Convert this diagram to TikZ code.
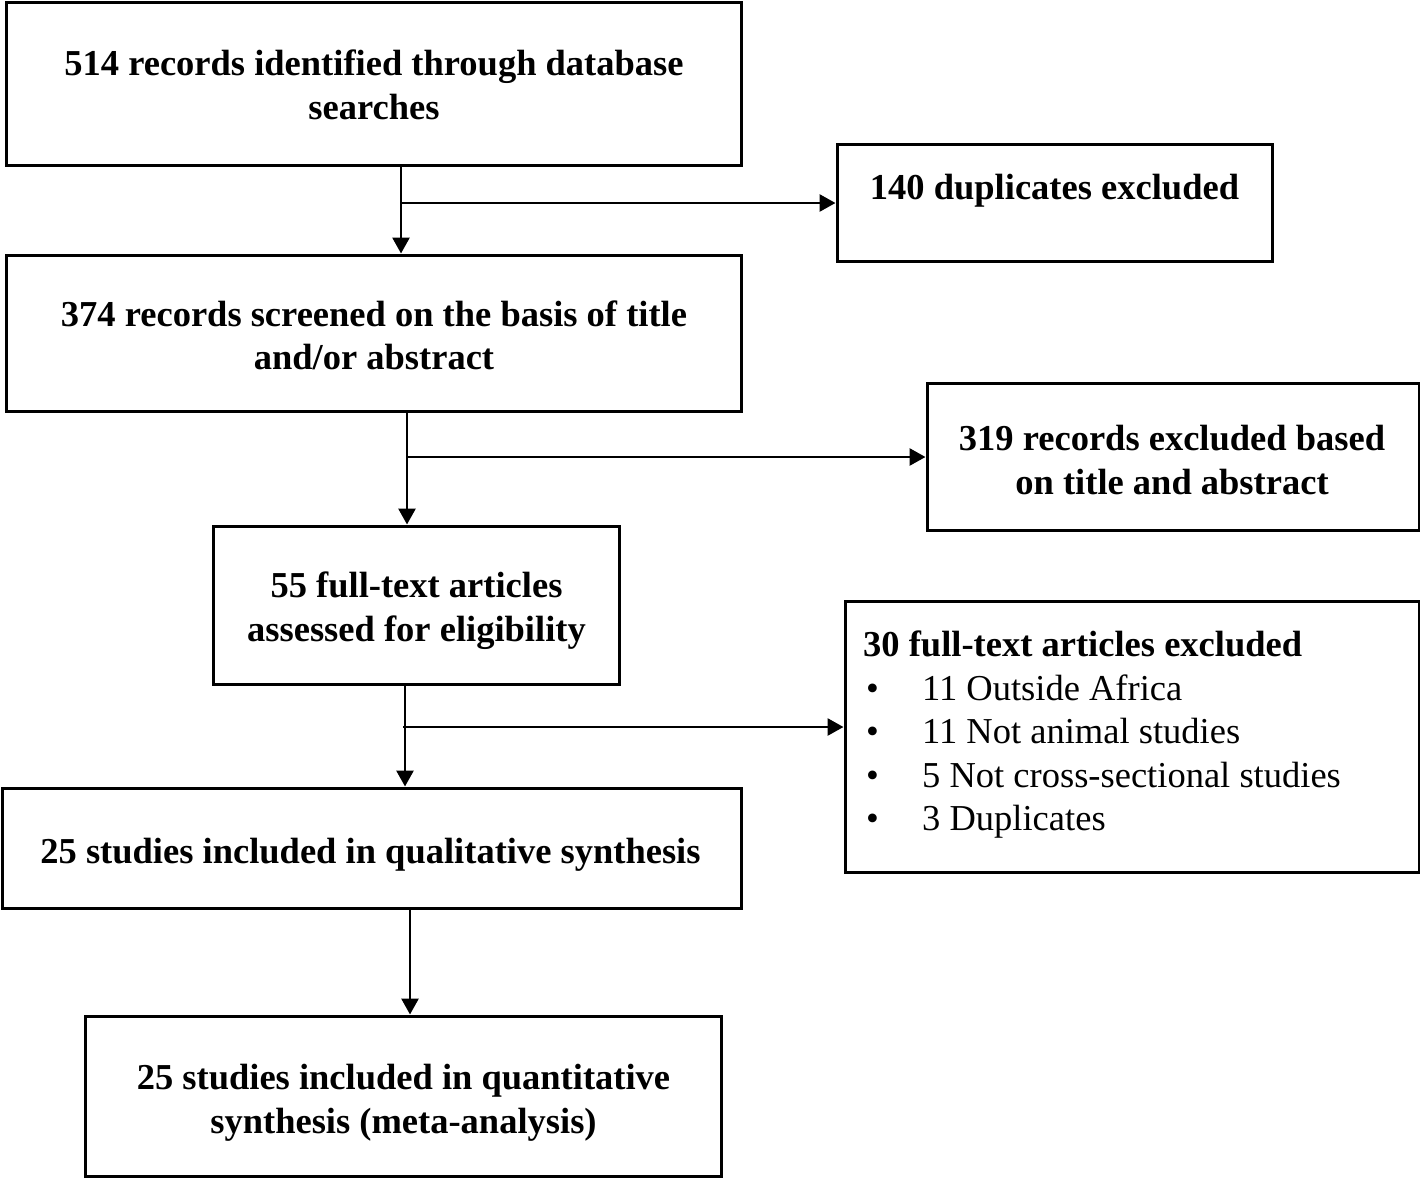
\documentclass[tikz,border=0pt]{standalone}
\usepackage{fontspec}
\setmainfont{Liberation Serif}
\usetikzlibrary{arrows.meta}
\begin{document}
\begin{tikzpicture}[x=1pt,y=-1pt,
  box/.style={draw, line width=3pt, inner sep=0pt},
  txt/.style={inner sep=0pt, anchor=base, font=\fontsize{36.5}{44}\selectfont\bfseries},
  ltxt/.style={inner sep=0pt, anchor=base west, font=\fontsize{36.5}{44}\selectfont\bfseries},
  reg/.style={inner sep=0pt, anchor=base west, font=\fontsize{36.5}{44}\selectfont},
  arr/.style={line width=2.8pt, -{Triangle[length=16pt,width=17pt]}}]
\useasboundingbox (0,0) rectangle (1420,1178);
\fill[white] (0,0) rectangle (1420,1178);
% boxes
\node[box, minimum width=735pt, minimum height=163pt] (box1) at (373.5,83.5) {};
\node[box, minimum width=435pt, minimum height=117pt] (dup) at (1054.5,202.5) {};
\node[box, minimum width=735pt, minimum height=156pt] (box2) at (373.5,333) {};
\node[box, minimum width=492pt, minimum height=147pt] (ex319) at (1173,456.5) {};
\node[box, minimum width=406pt, minimum height=158pt] (box3) at (416,605) {};
\node[box, minimum width=574pt, minimum height=271pt] (ex30) at (1132,736.5) {};
\node[box, minimum width=739pt, minimum height=120pt] (box4) at (371.5,848) {};
\node[box, minimum width=636pt, minimum height=160pt] (box5) at (403,1096) {};
% texts
\node[txt] (t1a) at (374,75) {514 records identified through database};
\node[txt] (t1b) at (374,119) {searches};
\node[txt] (tdup) at (1054.5,199) {140 duplicates excluded};
\node[txt] (t2a) at (374,326) {374 records screened on the basis of title};
\node[txt] (t2b) at (374,369) {and/or abstract};
\node[txt] (t319a) at (1172,450) {319 records excluded based};
\node[txt] (t319b) at (1172,494) {on title and abstract};
\node[txt] (t3a) at (416.5,597) {55 full-text articles};
\node[txt] (t3b) at (416.5,641) {assessed for eligibility};
\node[ltxt] (t30) at (863,656) {30 full-text articles excluded};
\node[reg] (b1) at (866,700) {\textbullet};
\node[reg] (i1) at (922,700) {11 Outside Africa};
\node[reg] (b2) at (866,743.5) {\textbullet};
\node[reg] (i2) at (922,743.5) {11 Not animal studies};
\node[reg] (b3) at (866,787) {\textbullet};
\node[reg] (i3) at (922,787) {5 Not cross-sectional studies};
\node[reg] (b4) at (866,830.5) {\textbullet};
\node[reg] (i4) at (922,830.5) {3 Duplicates};
\node[txt] (t4) at (370.5,863) {25 studies included in qualitative synthesis};
\node[txt] (t5a) at (403.5,1089) {25 studies included in quantitative};
\node[txt] (t5b) at (403.5,1133) {synthesis (meta-analysis)};
% connectors
\coordinate (j1) at (401,203);
\coordinate (j2) at (407,457);
\coordinate (j3) at (405,727);
\coordinate (j4) at (410,960);
\draw[arr] (box1.south -| j1) -- (box2.north -| j1);
\draw[arr] (j1) -- (dup.west |- j1);
\draw[arr] (box2.south -| j2) -- (box3.north -| j2);
\draw[arr] (j2) -- (ex319.west |- j2);
\draw[arr] (box3.south -| j3) -- (box4.north -| j3);
\draw[arr] ([xshift=-2pt]j3) -- (ex30.west |- j3);
\draw[arr] (box4.south -| j4) -- (box5.north -| j4);
\end{tikzpicture}
\end{document}
